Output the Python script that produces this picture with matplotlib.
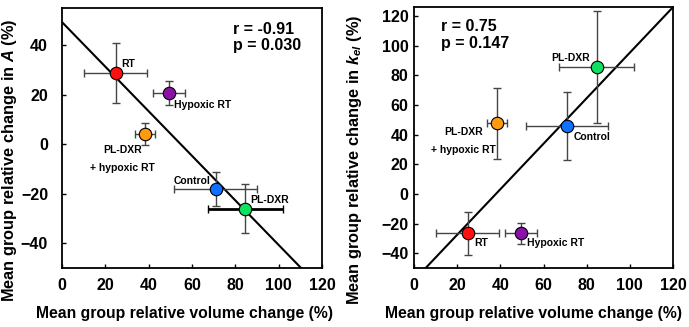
import matplotlib
matplotlib.use("Agg")
import matplotlib.pyplot as plt
import numpy as np

plt.rcParams['font.family'] = ['Liberation Sans', 'DejaVu Sans']
plt.rcParams['font.weight'] = 'bold'
plt.rcParams['mathtext.fontset'] = 'custom'
plt.rcParams['mathtext.it'] = 'Liberation Sans:italic:bold'
plt.rcParams['mathtext.rm'] = 'Liberation Sans:bold'

groups = ["RT", "Hypoxic RT", "PL-DXR\n+ hypoxic RT", "Control", "PL-DXR"]
colors = ["#ff1010", "#8a10a8", "#ff9a10", "#1070ff", "#10e060"]
vol = [24.8, 49.4, 38.4, 71.0, 84.6]
vol_err = [14.5, 7.4, 4.5, 19.1, 17.2]

A_change = [28.8, 20.7, 4.0, -18.0, -26.0]
A_err = [12.0, 5.0, 4.5, 6.8, 9.8]
A_fit = [49.3, -0.9]  # intercept, slope
A_stats = "r = -0.91\np = 0.030"

kel_change = [-26.7, -26.7, 47.5, 45.8, 85.5]
kel_err = [14.7, 7.2, 24.2, 23.0, 37.7]
kel_fit = [-58.3, 1.535]
kel_stats = "r = 0.75\np = 0.147"

fig = plt.figure(figsize=(6.89, 3.27), dpi=100)
ax1 = fig.add_axes([62/689, 1-268/327, 260/689, 260/327])
ax2 = fig.add_axes([414/689, 1-268/327, 259/689, 261/327])


def panel(ax, y, yerr, fit, stats, ylim, yticks, ylabel, label_pos, stats_xy, ypad, ylab_x,
          xlab_x, thick_idx=None):
    xx = np.linspace(-10, 130, 200)
    ax.plot(xx, fit[0] + fit[1]*xx, color='black', lw=1.5, zorder=2)
    for i in range(len(vol)):
        thick = thick_idx is not None and i == thick_idx
        ax.errorbar(vol[i], y[i], xerr=vol_err[i], fmt='none',
                    ecolor='black' if thick else '#454545',
                    elinewidth=2.0 if thick else 1.0, capsize=3, capthick=1.0, zorder=3)
        ax.errorbar(vol[i], y[i], yerr=yerr[i], fmt='none', ecolor='#454545',
                    elinewidth=1.0, capsize=3, capthick=1.0, zorder=3)
        ax.plot(vol[i], y[i], 'o', ms=9, mfc=colors[i], mec='black', mew=0.8, zorder=4)
        tx, ty, ha = label_pos[i]
        ax.text(tx, ty, groups[i], fontsize=7.5, fontweight='bold', ha=ha, va='center',
                linespacing=2.0, zorder=5)
    ax.text(stats_xy[0], stats_xy[1], stats, fontsize=11.5, fontweight='bold', ha='left', va='top',
            linespacing=1.15)
    ax.set_xlim(0, 120)
    ax.set_ylim(*ylim)
    ax.set_xticks([0, 20, 40, 60, 80, 100, 120])
    ax.set_yticks(yticks)
    ax.tick_params(direction='in', length=3, width=1, labelsize=11.5)
    ax.tick_params(axis='x', pad=7)
    ax.tick_params(axis='y', pad=ypad)
    for lab in ax.get_xticklabels() + ax.get_yticklabels():
        lab.set_fontweight('bold')
    for s in ax.spines.values():
        s.set_linewidth(1.3)
    ax.set_xlabel("Mean group relative volume change (%)", fontsize=11.3, fontweight='bold')
    ax.set_ylabel(ylabel, fontsize=11.8, fontweight='bold')
    ax.xaxis.set_label_coords(xlab_x, -0.145)
    ax.yaxis.set_label_coords(ylab_x, 0.415)


panel(ax1, A_change, A_err, A_fit, A_stats, (-50, 55), [-40, -20, 0, 20, 40],
      r"Mean group relative change in $\mathit{A}$ (%)",
      [(30.5, 32.5, 'center'), (51.5, 16.0, 'left'), (28, -6.0, 'center'),
       (68.5, -15.0, 'right'), (87.0, -22.5, 'left')],
      (79, 49.5), ypad=10, ylab_x=-0.165, xlab_x=0.47, thick_idx=4)

panel(ax2, kel_change, kel_err, kel_fit, kel_stats, (-50, 126), [-40, -20, 0, 20, 40, 60, 80, 100, 120],
      r"Mean group relative change in $\mathit{k}_{\mathit{el}}$ (%)",
      [(28, -33, 'left'), (52.5, -33, 'left'), (23, 35.5, 'center'),
       (74.0, 38.5, 'left'), (81.5, 91.5, 'right')],
      (12.5, 118), ypad=4, ylab_x=-0.193, xlab_x=0.462)

fig.savefig("out.png", dpi=100)
